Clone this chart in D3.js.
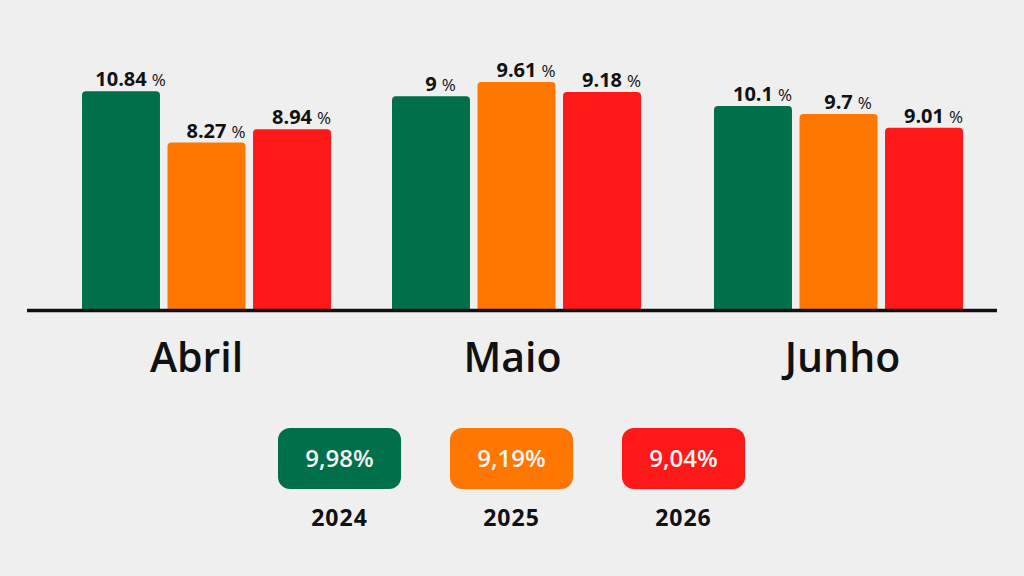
<!DOCTYPE html>
<html>
<head>
<meta charset="utf-8">
<script src="https://cdn.jsdelivr.net/npm/d3@7"></script>
<style>
  html, body { margin: 0; padding: 0; background: #efefef; }
  svg { display: block; }
  text { font-family: "Open Sans", "Noto Sans", sans-serif; }
</style>
</head>
<body>
<svg id="chart" width="1024" height="576"></svg>
<script>
// ---- data ----
const months = ["Abril", "Maio", "Junho"];
const years = ["2024", "2025", "2026"];
const values2024 = [10.84, 9, 10.1];
const values2025 = [8.27, 9.61, 9.7];
const values2026 = [8.94, 9.18, 9.01];
const monthAxisMax = [12, 10.2, 12];          // each month group has its own value axis
const averageLabels = ["9,98%", "9,19%", "9,04%"];
const seriesColors = ["#00704a", "#ff7700", "#ff1818"];

const seriesValues = [values2024, values2025, values2026];

const svg = d3.select("#chart");
const baseY = 308, topY = 68;

const groupShift = [0, -6, 0];
const x0 = d3.scaleBand().domain(months).range([82, 963]).paddingInner(0.212).paddingOuter(0);
const x1 = d3.scaleBand().domain(years).range([0, x0.bandwidth()]).paddingInner(0.088).paddingOuter(0);
const yScales = months.map((m, i) => d3.scaleLinear().domain([0, monthAxisMax[i]]).range([baseY, topY]));
const gx = (m, i) => x0(m) + groupShift[i];

const rows = [];
months.forEach((m, mi) => {
  years.forEach((yr, si) => {
    rows.push({ month: m, mi, year: yr, si, value: seriesValues[si][mi] });
  });
});

const g = svg.append("g");

// bars: rounded top corners, square bottom
const r = 4;
g.selectAll("path.bar").data(rows).join("path")
  .attr("class", "bar")
  .attr("fill", d => seriesColors[d.si])
  .attr("d", d => {
    const x = gx(d.month, d.mi) + x1(d.year), w = x1.bandwidth();
    const y = yScales[d.mi](d.value), b = yScales[d.mi](0) + 1;
    return `M${x},${b} L${x},${y + r} Q${x},${y} ${x + r},${y} L${x + w - r},${y} Q${x + w},${y} ${x + w},${y + r} L${x + w},${b} Z`;
  });

// value labels
rows.forEach(d => {
  const cx = gx(d.month, d.mi) + x1(d.year) + x1.bandwidth() / 2;
  const y = yScales[d.mi](d.value) - 5;
  const num = g.append("text")
    .attr("x", cx).attr("y", y)
    .attr("text-anchor", "middle")
    .attr("font-size", 20).attr("font-weight", 700).attr("fill", "#111")
    .text(String(d.value));
  const wNum = num.node().getComputedTextLength();
  g.append("text")
    .attr("x", cx + wNum / 2 + 5).attr("y", y)
    .attr("font-size", 17).attr("font-weight", 500).attr("fill", "#111")
    .text("%");
});

// baseline
svg.append("line")
  .attr("x1", 27).attr("x2", 997)
  .attr("y1", 310.5).attr("y2", 310.5)
  .attr("stroke", "#111").attr("stroke-width", 3.5);

// month labels
const monthNudge = [-10, -4, 4];
svg.selectAll("text.month").data(months).join("text")
  .attr("class", "month")
  .attr("x", (d, i) => gx(d, i) + x0.bandwidth() / 2 + monthNudge[i])
  .attr("y", 372)
  .attr("text-anchor", "middle")
  .attr("font-size", 41).attr("font-weight", 600).attr("fill", "#111")
  .text(d => d);

// legend
const lx = d3.scaleBand().domain(years).range([278, 745]).paddingInner(0.2845).paddingOuter(0);
const leg = svg.append("g");
leg.selectAll("rect").data(years).join("rect")
  .attr("x", d => lx(d)).attr("y", 428)
  .attr("width", lx.bandwidth()).attr("height", 61)
  .attr("rx", 12).attr("ry", 12)
  .attr("fill", (d, i) => seriesColors[i]);
leg.selectAll("text.avg").data(years).join("text")
  .attr("class", "avg")
  .attr("x", d => lx(d) + lx.bandwidth() / 2).attr("y", 467)
  .attr("text-anchor", "middle")
  .attr("font-size", 24).attr("font-weight", 600).attr("fill", "#f4f4f4")
  .text((d, i) => averageLabels[i]);
leg.selectAll("text.year").data(years).join("text")
  .attr("class", "year")
  .attr("x", d => lx(d) + lx.bandwidth() / 2).attr("y", 526)
  .attr("text-anchor", "middle")
  .attr("font-size", 23).attr("font-weight", 700).attr("fill", "#111")
  .attr("letter-spacing", 1)
  .text(d => d);
</script>
</body>
</html>
